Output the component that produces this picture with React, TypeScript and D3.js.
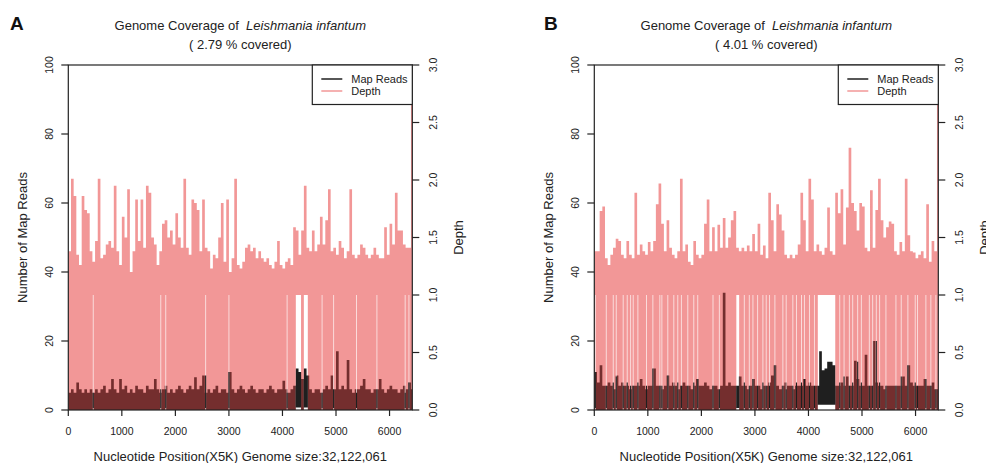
import React from 'react';
import * as d3 from 'd3';

// genome is binned by 5K -> 32,122,061 / 5000 positions; values below are read per 50-position bin
const BIN = 50;
const GENOME_LEN = 6425;

const panelLetters = ['A', 'B'];
const coveredPct = ['2.79', '4.01'];

const xTicks = [0, 1000, 2000, 3000, 4000, 5000, 6000];
const readTicks = [0, 20, 40, 60, 80, 100];
const depthTicks = [0, 0.5, 1, 1.5, 2, 2.5, 3];

// Depth (right axis), max per bin
const depthA = [
  1.38, 2.01, 1.86, 1.35, 1.26, 1.86, 1.74, 1.71, 1.38, 1.29,
  1.47, 2.01, 1.32, 1.35, 1.44, 1.47, 1.41, 1.95, 1.38, 1.26,
  1.68, 1.5, 1.92, 1.2, 1.38, 1.83, 1.47, 1.83, 1.41, 1.95,
  1.89, 1.5, 1.44, 1.26, 1.38, 1.62, 1.65, 1.5, 1.56, 1.44,
  1.71, 1.5, 1.41, 2.01, 1.41, 1.35, 1.83, 1.8, 1.74, 1.38,
  1.83, 1.41, 1.38, 1.23, 1.35, 1.32, 1.5, 1.8, 1.29, 1.83,
  1.2, 1.32, 2.01, 1.26, 1.23, 1.29, 1.41, 1.44, 1.38, 1.41,
  1.32, 1.38, 1.32, 1.29, 1.32, 1.26, 1.23, 1.29, 1.47, 1.26,
  1.23, 1.29, 1.32, 1.26, 1.59, 1.56, 1.35, 1.56, 1.95, 1.41,
  1.38, 1.56, 1.38, 1.44, 1.68, 1.44, 1.65, 1.92, 1.38, 1.41,
  1.35, 1.47, 1.41, 1.32, 1.38, 1.92, 1.35, 1.32, 1.35, 1.44,
  1.41, 1.35, 1.32, 1.35, 1.41, 1.35, 1.32, 1.32, 1.59, 1.35,
  1.62, 1.44, 1.89, 1.56, 1.56, 1.44, 1.41, 1.41, 3.6,
];

// Map reads (left axis), max per bin
const readsA = [
  5, 6, 5, 8, 6, 5, 6, 5, 6, 5,
  6, 5, 6, 7, 5, 6, 9, 6, 5, 9,
  6, 7, 5, 6, 5, 7, 6, 6, 5, 7,
  6, 6, 9, 6, 5, 6, 7, 5, 6, 5,
  6, 7, 6, 5, 6, 7, 6, 9.5, 6, 7,
  10, 5, 6, 5, 6, 7, 5, 6, 6, 5,
  11, 6, 5, 6, 7, 6, 5, 6, 7, 6,
  5, 6, 6, 5, 6, 7, 6, 5, 6, 6,
  8.5, 6, 5, 6, 7, 12, 11, 9, 12, 10,
  6, 5, 6, 6, 5, 6, 7, 6, 10, 6,
  17, 6, 7, 6, 14.5, 6, 5, 6, 6, 7,
  9, 6, 6, 5, 6, 6, 9, 6, 5, 6,
  7, 6, 6, 5, 6, 7, 6, 8, 6,
];

const depthB = [
  1.38, 1.38, 1.73, 1.77, 1.32, 1.26, 1.35, 1.41, 1.49, 1.47,
  1.35, 1.32, 1.47, 1.35, 1.32, 1.89, 1.35, 1.44, 1.38, 1.35,
  1.46, 1.38, 1.47, 1.79, 1.97, 1.62, 1.38, 1.65, 1.41, 1.35,
  1.32, 1.38, 2.01, 1.38, 1.44, 1.29, 1.26, 1.47, 1.35, 1.32,
  1.35, 1.62, 1.83, 1.38, 1.59, 1.38, 1.61, 1.41, 1.67, 1.41,
  1.5, 1.65, 1.73, 1.41, 1.38, 1.41, 1.38, 1.43, 1.38, 1.53,
  1.38, 1.62, 1.35, 1.43, 1.32, 1.89, 1.65, 1.38, 1.79, 1.7,
  1.56, 1.35, 1.32, 1.35, 1.32, 1.35, 1.44, 1.89, 1.65, 1.38,
  2.01, 1.83, 1.38, 1.44, 1.38, 1.35, 1.41, 1.76, 1.38, 1.35,
  1.89, 1.71, 1.92, 1.44, 1.76, 2.28, 1.8, 1.73, 1.56, 1.8,
  1.77, 1.41, 1.38, 1.91, 1.41, 1.74, 2.01, 1.65, 1.5, 1.59,
  1.64, 1.62, 1.38, 1.35, 1.46, 1.38, 2.01, 1.52, 1.38, 1.37,
  1.32, 1.35, 1.38, 1.32, 1.79, 1.29, 1.47, 1.38, 3.6,
];

const readsB = [
  11, 8, 13, 7, 7, 8, 7, 6, 10, 7,
  8, 7, 7, 6, 7, 7, 7, 9, 7, 6,
  7, 7, 12, 7, 7, 6, 7, 10, 7, 8,
  7, 6, 7, 8, 7, 7, 6, 7, 9, 7,
  7, 8, 7, 6, 7, 7, 6, 7, 34, 7,
  8, 7, 7, 7, 9.7, 7, 7, 6, 7, 9,
  7, 7, 6, 7, 7, 8, 10, 13, 7, 6,
  7, 8, 7, 7, 6, 7, 7, 7, 9, 7,
  8, 7, 7, 7, 17, 11.5, 12, 14, 14, 13,
  7, 7, 8, 7, 9.7, 7, 7, 14.3, 9, 7,
  7, 16, 7, 7, 20, 8, 7, 7, 6, 7,
  7, 7, 7, 7, 7, 9.7, 7, 13, 8, 7,
  7, 7, 7, 9, 7, 7, 8, 6, 6,
];

// single positions with unbroken coverage (depth never drops to 0)
const solidPosA = [466, 1727, 1820, 2565, 3000, 4087, 4740, 4955, 5383, 5764, 6292, 6362];
const solidReadsA = [5, 6, 6, 10, 11, 5, 5, 6, 5, 6, 5, 8];
const solidPosB = [
  20, 224, 354, 410, 540, 615, 678, 727, 814, 975, 1094, 1224, 1262, 1373, 1485, 1559, 1627, 1746, 1858,
  1932, 2217, 2336, 2802, 2895, 2963, 3050, 3149, 3211, 3273, 3373, 3522, 3584, 3708, 3776, 3870, 3925,
  4019, 4112, 4584, 4665, 4764, 4826, 4919, 4988, 5137, 5199, 5267, 5329, 5447, 5634, 5733, 5857, 5994,
  6037, 6193, 6286, 6380,
];
const solidReadsB = [
  11, 7, 8, 9.7, 7, 8, 7, 7, 8, 7, 12, 7, 7, 10, 7, 8, 7, 7, 8,
  9, 7, 6, 8, 7, 9, 7, 8, 7, 7, 13, 7, 6, 7, 8, 8, 9,
  7, 7, 8, 9.7, 7, 8, 14, 8, 7, 7, 20, 8, 7, 7, 9.7, 13, 8,
  7, 9, 7, 6,
];
// wider stretches of unbroken coverage: [start, end, min reads]
const gapSpansA = [[4245, 4350, 0.7], [4395, 4475, 0.7]];
const gapSpansB = [[2650, 2710, 0.6], [4170, 4505, 1.5]];

const FONT = '"Liberation Sans", Arial, Helvetica, sans-serif';
const PINK = '#f29797';
const MAROON = '#742e2e';
const BLACK = '#1f1f1f';
const INK = '#222';

const Panel = ({ idx, dx, depth, reads, solidPos, solidReads, spans }) => {
  const left = 68.3 + dx;
  const right = left + 344;
  const top = 65;
  const bottom = 410;
  const cx = (left + right) / 2;
  const midY = (top + bottom) / 2;

  const x = d3.scaleLinear().domain([0, GENOME_LEN]).range([left, right]);
  const yR = d3.scaleLinear().domain([0, 100]).range([bottom, top]);
  const yD = d3.scaleLinear().domain([0, 3]).range([bottom, top]);
  const clipId = `clip-${idx}`;

  // step series: one point per bin start, plus the genome end
  const steps = (vals) => [...vals.map((v, i) => [i * BIN, v]), [GENOME_LEN, vals[vals.length - 1]]];
  const stepArea = (y) => d3.area()
    .x((d) => x(d[0]))
    .y0(bottom)
    .y1((d) => y(d[1]))
    .curve(d3.curveStepAfter);

  return (
    <g>
      <defs>
        <clipPath id={clipId}>
          <rect x={left} y={top} width={right - left} height={bottom - top} />
        </clipPath>
        {spans.map(([s, e], k) => (
          <clipPath id={`${clipId}-s${k}`} key={k}>
            <rect x={x(s)} y={top} width={x(e) - x(s)} height={bottom - top} />
          </clipPath>
        ))}
      </defs>

      <g clipPath={`url(#${clipId})`}>
        <path d={stepArea(yD)(steps(depth))} fill={PINK} />
        <path d={stepArea(yR)(steps(reads))} fill={MAROON} />
        {spans.map(([s, e, lo], k) => (
          <g key={'s' + k} clipPath={`url(#${clipId}-s${k})`}>
            <rect x={x(s)} width={x(e) - x(s)} y={yD(1)} height={bottom - yD(1)} fill="#fff" />
            <path d={stepArea(yR).y0(yR(lo))(steps(reads))} fill={BLACK} />
          </g>
        ))}
        {solidPos.map((p, i) => (
          <g key={'p' + i}>
            <line x1={x(p)} x2={x(p)} y1={yD(1)} y2={bottom} stroke="#fff" strokeOpacity={0.65} strokeWidth={1} />
            <line x1={x(p)} x2={x(p)} y1={yR(0.6)} y2={yR(solidReads[i])} stroke={BLACK} strokeWidth={1.1} />
          </g>
        ))}
      </g>

      {/* box */}
      <rect x={left} y={top} width={right - left} height={bottom - top} fill="none" stroke={INK} strokeWidth={1.2} />

      {/* left axis */}
      {readTicks.map((t) => (
        <g key={'yl' + t}>
          <line x1={left - 7} x2={left} y1={yR(t)} y2={yR(t)} stroke={INK} strokeWidth={1.2} />
          <text transform={`translate(${left - 15},${yR(t)}) rotate(-90)`} textAnchor="middle"
            fontSize={10.5} fill={INK}>{t}</text>
        </g>
      ))}
      <text transform={`translate(${left - 41},${midY}) rotate(-90)`} textAnchor="middle"
        fontSize={13} fill={INK}>Number of Map Reads</text>

      {/* right axis */}
      {depthTicks.map((t) => (
        <g key={'yr' + t}>
          <line x1={right} x2={right + 7} y1={yD(t)} y2={yD(t)} stroke={INK} strokeWidth={1.2} />
          <text transform={`translate(${right + 25},${yD(t)}) rotate(-90)`} textAnchor="middle"
            fontSize={10.5} fill={INK}>{d3.format('.1f')(t)}</text>
        </g>
      ))}
      <text transform={`translate(${right + 51},${midY}) rotate(-90)`} textAnchor="middle"
        fontSize={13} fill={INK}>Depth</text>

      {/* bottom axis */}
      {xTicks.map((t) => (
        <g key={'x' + t}>
          <line x1={x(t)} x2={x(t)} y1={bottom} y2={bottom + 6} stroke={INK} strokeWidth={1.2} />
          <text x={x(t)} y={bottom + 25} textAnchor="middle" fontSize={10.5} fill={INK}>{t}</text>
        </g>
      ))}
      <text x={cx} y={461} textAnchor="middle" fontSize={13} fill={INK}>
        Nucleotide Position(X5K) Genome size:32,122,061
      </text>

      {/* legend */}
      <rect x={right - 100} y={top} width={100} height={39.5} fill="#fff" stroke={INK} strokeWidth={1.2} />
      <line x1={right - 91} x2={right - 70} y1={79} y2={79} stroke={BLACK} strokeWidth={1.5} />
      <text x={right - 61} y={83} fontSize={11} fill={INK}>Map Reads</text>
      <line x1={right - 91} x2={right - 70} y1={91} y2={91} stroke={PINK} strokeWidth={1.5} />
      <text x={right - 61} y={95} fontSize={11} fill={INK}>Depth</text>

      {/* titles */}
      <text x={cx} y={30} textAnchor="middle" fontSize={13} fill={INK}>
        Genome Coverage of{'\u00a0\u00a0'}<tspan fontStyle="italic">Leishmania infantum</tspan>
      </text>
      <text x={cx} y={49} textAnchor="middle" fontSize={13} fill={INK}>
        {`( ${coveredPct[idx]} % covered)`}
      </text>
      <text x={dx + 10 + (idx ? 8 : 0)} y={30} fontSize={19} fontWeight="bold" fill="#111">
        {panelLetters[idx]}
      </text>
    </g>
  );
};

export default function App() {
  return (
    <svg width={986} height={463} fontFamily={FONT}
      style={{ position: 'absolute', left: 0, top: 0, background: '#fff' }}>
      <Panel idx={0} dx={0} depth={depthA} reads={readsA} solidPos={solidPosA}
        solidReads={solidReadsA} spans={gapSpansA} />
      <Panel idx={1} dx={526} depth={depthB} reads={readsB} solidPos={solidPosB}
        solidReads={solidReadsB} spans={gapSpansB} />
    </svg>
  );
}
